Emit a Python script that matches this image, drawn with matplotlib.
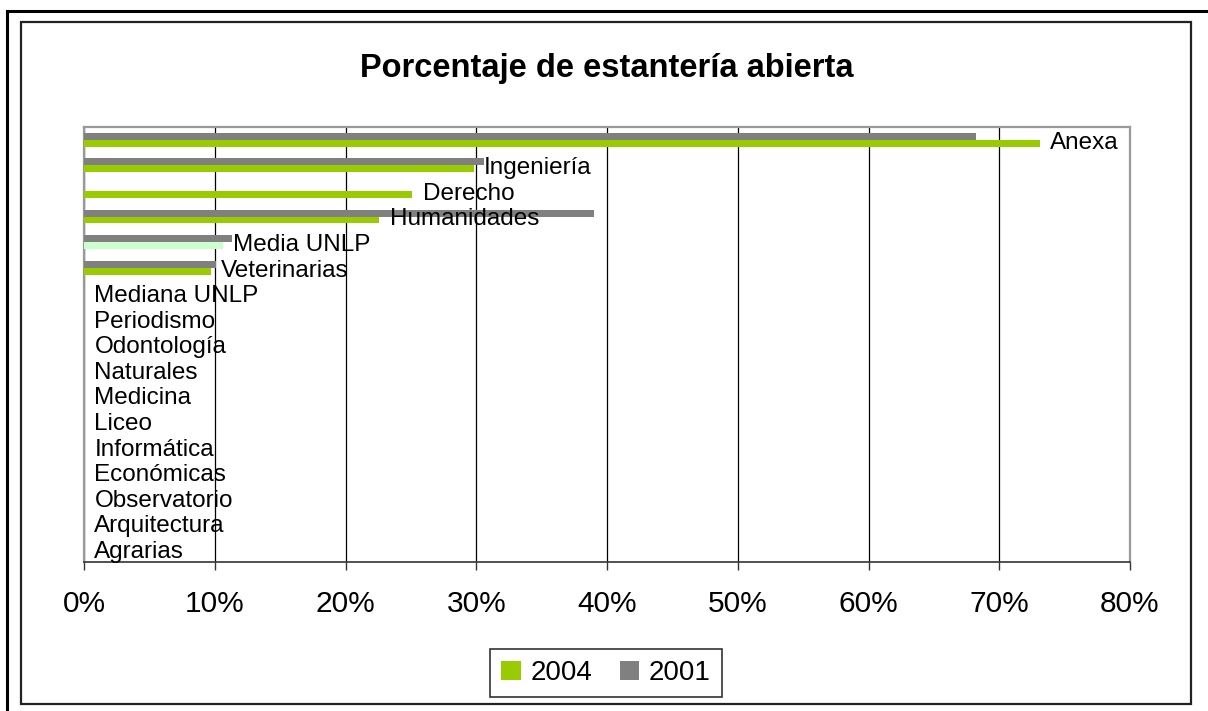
import matplotlib
matplotlib.use("Agg")
import matplotlib.pyplot as plt
from matplotlib.patches import Rectangle, Patch
from matplotlib.lines import Line2D
import numpy as np

categories = ["Anexa", "Ingeniería", "Derecho", "Humanidades", "Media UNLP",
              "Veterinarias", "Mediana UNLP", "Periodismo", "Odontología",
              "Naturales", "Medicina", "Liceo", "Informática", "Económicas",
              "Observatorio", "Arquitectura", "Agrarias"]
v2004 = [73.1, 29.8, 25.1, 22.6, 10.6, 9.7, 0, 0, 0, 0, 0, 0, 0, 0, 0, 0, 0]
v2001 = [68.2, 30.6, 0, 39.0, 11.3, 10.1, 0, 0, 0, 0, 0, 0, 0, 0, 0, 0, 0]
xticks = [0, 10, 20, 30, 40, 50, 60, 70, 80]
xticklabels = ["0%", "10%", "20%", "30%", "40%", "50%", "60%", "70%", "80%"]
title = "Porcentaje de estantería abierta"

GREEN = "#99CC00"
PALE = "#CCFFCC"
GRAY = "#808080"

plt.rcParams["font.family"] = ["Liberation Sans", "DejaVu Sans"]

W, H = 1208, 711
fig = plt.figure(figsize=(W / 100, H / 100), dpi=100)
fig.patch.set_facecolor("white")

def fx(px):
    return px / W

def fy(py):
    return 1 - py / H

# outer frame lines
fig.add_artist(Line2D([fx(7), fx(1208)], [fy(11), fy(11)], color="black", lw=2.2,
                      transform=fig.transFigure))
fig.add_artist(Line2D([fx(7), fx(7)], [fy(11), fy(711)], color="black", lw=2.2,
                      transform=fig.transFigure))
# inner chart box
fig.add_artist(Rectangle((fx(21), fy(704)), fx(1191) - fx(21), fy(22) - fy(704),
                         transform=fig.transFigure, fill=False, ec="#222222", lw=1.6))

L, R, T, B = 84, 1130, 127, 562
ax = fig.add_axes([fx(L), fy(B), fx(R) - fx(L), fy(T) - fy(B)])

n = len(categories)
y = np.arange(n)
bh = 0.27
colors2004 = [PALE if c == "Media UNLP" else GREEN for c in categories]
ax.barh(y - bh / 2, v2001, height=bh, color=GRAY, zorder=3)
ax.barh(y + bh / 2, v2004, height=bh, color=colors2004, zorder=3)

ax.set_xlim(0, 80)
ax.set_ylim(n - 0.5, -0.5)
ax.set_xticks(xticks)
ax.set_xticklabels(xticklabels, fontsize=21.5)
ax.set_yticks([])
ax.tick_params(axis="x", direction="out", length=6, width=1, color="#333333", pad=14)
ax.grid(axis="x", color="black", lw=0.9, zorder=1)
for s in ["left", "top", "right"]:
    ax.spines[s].set_color("#999999")
    ax.spines[s].set_linewidth(1.6)
ax.spines["bottom"].set_color("#333333")
ax.spines["bottom"].set_linewidth(1.2)

# category labels at end of 2004 bars
for yi, v, c in zip(y, v2004, categories):
    ax.annotate(c, xy=(v, yi), xytext=(7.5, -2), textcoords="offset points",
                ha="left", va="center", fontsize=17.5, zorder=4)

fig.text(fx(607), fy(68), title, ha="center", va="center", fontsize=23.5,
         fontweight="bold")

handles = [Patch(facecolor=GREEN, edgecolor="none"), Patch(facecolor=GRAY, edgecolor="none")]
leg = fig.legend(handles, ["2004", "2001"], loc="center",
                 bbox_to_anchor=(fx(606), fy(673)), ncol=2, fontsize=20,
                 frameon=True, fancybox=False, handlelength=0.7, handleheight=0.7,
                 handletextpad=0.35, columnspacing=1.0, borderpad=0.4)
leg.get_frame().set_edgecolor("black")
leg.get_frame().set_linewidth(1.2)

fig.savefig("out.png", dpi=100)
